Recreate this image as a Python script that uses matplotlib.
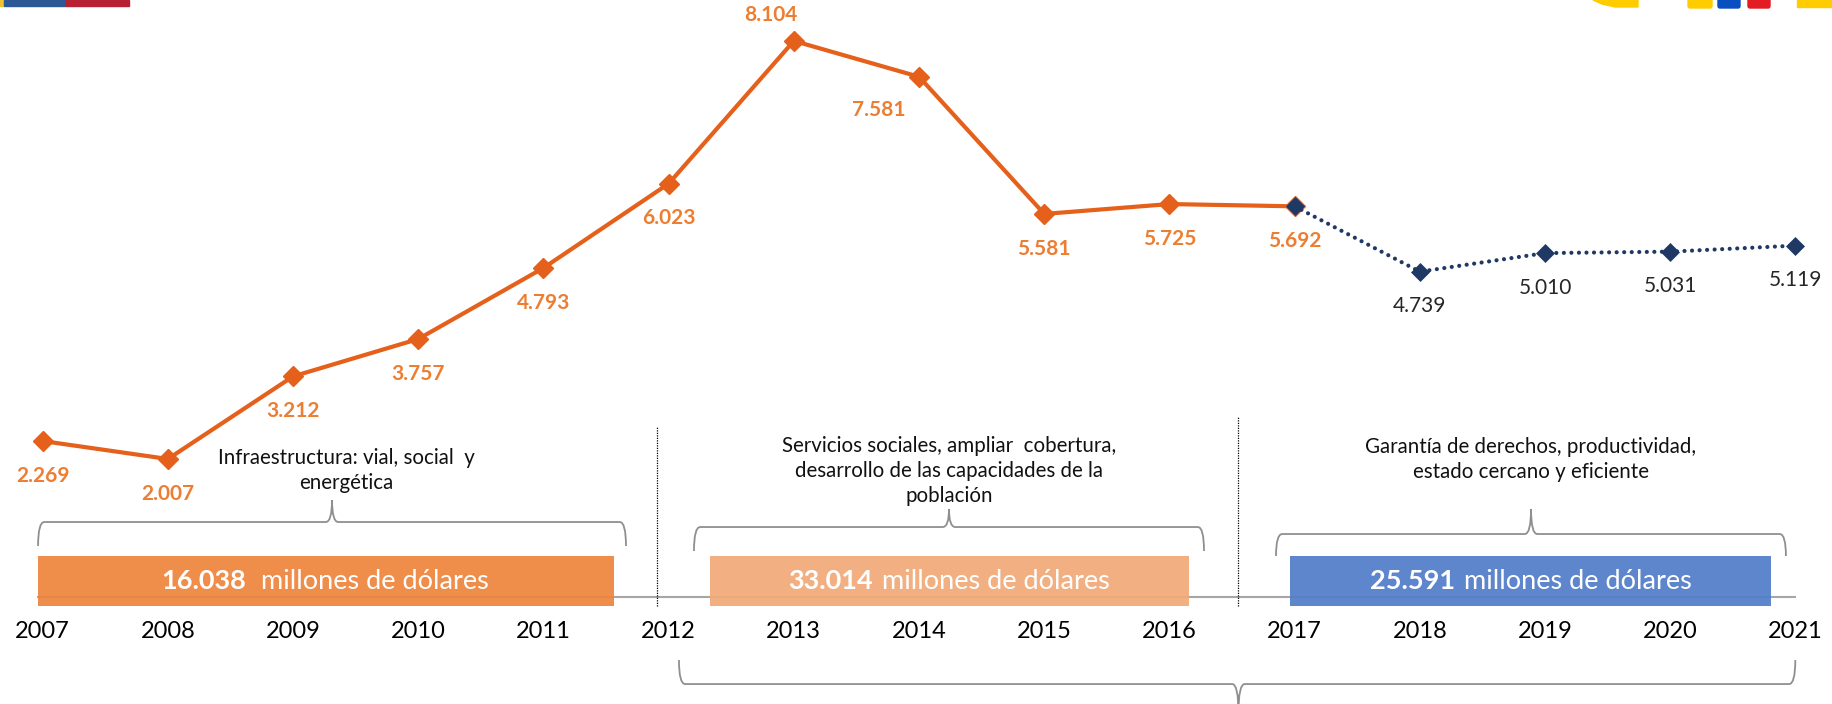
import matplotlib.pyplot as plt
from matplotlib.path import Path
from matplotlib.patches import PathPatch, Rectangle, Polygon, FancyBboxPatch
from matplotlib.transforms import IdentityTransform, offset_copy

plt.rcParams["font.family"] = ["Lato", "DejaVu Sans"]

# Inversion publica anual (miles de millones de dolares)
years_real = [2007, 2008, 2009, 2010, 2011, 2012, 2013, 2014, 2015, 2016, 2017]
values_real = [2.269, 2.007, 3.212, 3.757, 4.793, 6.023, 8.104, 7.581, 5.581, 5.725, 5.692]
years_plan = [2017, 2018, 2019, 2020, 2021]
values_plan = [5.692, 4.739, 5.010, 5.031, 5.119]
tick_years = list(range(2007, 2022))

# periodos
period_totals = ["16.038", "33.014", "25.591"]
period_unit = "millones de dólares"
period_desc = [
    "Infraestructura: vial, social  y\nenergética",
    "Servicios sociales, ampliar  cobertura,\ndesarrollo de las capacidades de la\npoblación",
    "Garantía de derechos, productividad,\nestado cercano y eficiente",
]

# colores
c_line = "#E5601A"
c_lab = "#ED7D31"
c_navy = "#203864"
c_bars = ["#EE843D", "#F2AA79", "#527DC8"]
c_grey = "#8F8F8F"

# layout (data units: years / values)
bar_spans = [(2006.963, 2011.563), (2012.330, 2016.156), (2016.962, 2020.804)]
bar_y0, bar_h = -0.144, 0.73
sep_x = [2011.904, 2016.551]
sep_top = [2.49, 2.63]
desc_pos = [(2009.423, 1.84), (2014.239, 1.83), (2018.888, 2.0)]
bar_text_x = [2009.255, 2014.239, 2018.884]
bar_text_gap = [15, 9, 9]
braces = [  # x0, x1, xc, y, y_end, y_tip
    (2006.963, 2011.659, 2009.311, 1.088, 0.738, 1.409),
    (2012.202, 2016.276, 2014.239, 1.015, 0.665, 1.278),
    (2016.851, 2020.924, 2018.888, 0.913, 0.592, 1.278),
    (2012.082, 2020.999, 2016.551, -1.275, -0.925, -1.70),
]

fig = plt.figure(figsize=(18.32, 7.04), dpi=100)
ax = fig.add_axes([0, 0, 1, 1])
ax.set_xlim(2006.659, 2021.292)
ax.set_ylim(-1.566, 8.701)
ax.axis("off")

# linea base
ax.plot([2006.963, 2021.0], [0, 0], color="#A6A6A6", lw=1.5, zorder=1)

# barras de periodo
for (x0, x1), col in zip(bar_spans, c_bars):
    ax.add_patch(Rectangle((x0, bar_y0), x1 - x0, bar_h, facecolor=col,
                           edgecolor="none", alpha=0.93, zorder=2))

# separadores
for x, top in zip(sep_x, sep_top):
    ax.plot([x, x], [bar_y0, top], color="black", lw=0.9,
            ls=(0, (1, 1)), zorder=2)


def brace(x0, x1, xc, y, y_end, y_tip, r=0.05):
    verts = [(x0, y_end), (x0, y), (x0 + r, y),
             (xc - r, y), (xc, y), (xc, y_tip),
             (xc, y), (xc + r, y),
             (x1 - r, y), (x1, y), (x1, y_end)]
    codes = [Path.MOVETO, Path.CURVE3, Path.CURVE3,
             Path.LINETO, Path.CURVE3, Path.CURVE3,
             Path.CURVE3, Path.CURVE3,
             Path.LINETO, Path.CURVE3, Path.CURVE3]
    ax.add_patch(PathPatch(Path(verts, codes), facecolor="none",
                           edgecolor=c_grey, lw=1.3, zorder=2))


for b in braces:
    brace(*b)

# series
ax.plot(years_real, values_real, color=c_line, lw=3, marker="D",
        ms=10, mec=c_line, mew=1, zorder=4)
ax.plot(years_plan, values_plan, color=c_navy, lw=3,
        ls=(0, (0.01, 1.8)), dash_capstyle="round", marker="D",
        ms=9, mec=c_navy, mew=0.5, zorder=5)

# etiquetas de valores
offsets_real = [(0, -25)] * len(years_real)
offsets_real[6] = (-17, 19)
offsets_real[7] = (-29, -24)
for x, v, off in zip(years_real, values_real, offsets_real):
    ax.annotate(f"{v:.3f}", (x, v), xytext=off, textcoords="offset points",
                ha="center", va="center", fontsize=15, fontweight="bold",
                color=c_lab, zorder=6)
for x, v in zip(years_plan[1:], values_plan[1:]):
    ax.annotate(f"{v:.3f}", (x, v), xytext=(0, -25), textcoords="offset points",
                ha="center", va="center", fontsize=15, color="#262626", zorder=6)

# anos
for yr in tick_years:
    ax.text(yr, -0.512, str(yr), ha="center", va="center", fontsize=17,
            color="black")

# descripciones
for (x, y), txt in zip(desc_pos, period_desc):
    ax.text(x, y, txt, ha="center", va="center", multialignment="center",
            fontsize=14.8, linespacing=1.3, color="#111111")

# textos de las barras
r = fig.canvas.get_renderer()
for xc, tot, gap in zip(bar_text_x, period_totals, bar_text_gap):
    tb = ax.text(xc, 0.225, tot, fontsize=19.5, fontweight="bold", color="white",
                 ha="left", va="center", zorder=7)
    tu = ax.text(xc, 0.225, period_unit, fontsize=19.5, color="white",
                 ha="left", va="center", zorder=7)
    wb = tb.get_window_extent(r).width
    wu = tu.get_window_extent(r).width
    total = wb + gap + wu
    tb.set_transform(offset_copy(ax.transData, fig, x=-total / 2, y=0, units="dots"))
    tu.set_transform(offset_copy(ax.transData, fig, x=-total / 2 + wb + gap, y=0,
                                 units="dots"))

# restos de logos (pixeles)
H = 704
ident = IdentityTransform()
fig.patches.append(Rectangle((0, H - 5.5), 4, 5.5, color="#EFC232", transform=ident))
fig.patches.append(Rectangle((4, H - 5.5), 62, 5.5, color="#2C5896", transform=ident))
fig.patches.append(Rectangle((66, H - 5.5), 63, 5.5, color="#B71F32", transform=ident))
fig.patches.append(Polygon([(1593, H), (1638, H), (1638, H - 7), (1615, H - 7),
                            (1602, H - 4)], closed=True, color="#FFCC00",
                           transform=ident))
for x0, w, col in [(1688, 24, "#FFCC00"), (1718, 22, "#0A4FBF"), (1748, 22, "#E31B23")]:
    fig.patches.append(FancyBboxPatch((x0 + 2, H - 6), w - 4, 10,
                                      boxstyle="round,pad=2", color=col,
                                      transform=ident))
fig.patches.append(Rectangle((1797, H - 7), 35, 7, color="#FFCC00", transform=ident))

plt.savefig("out.png", dpi=100)
